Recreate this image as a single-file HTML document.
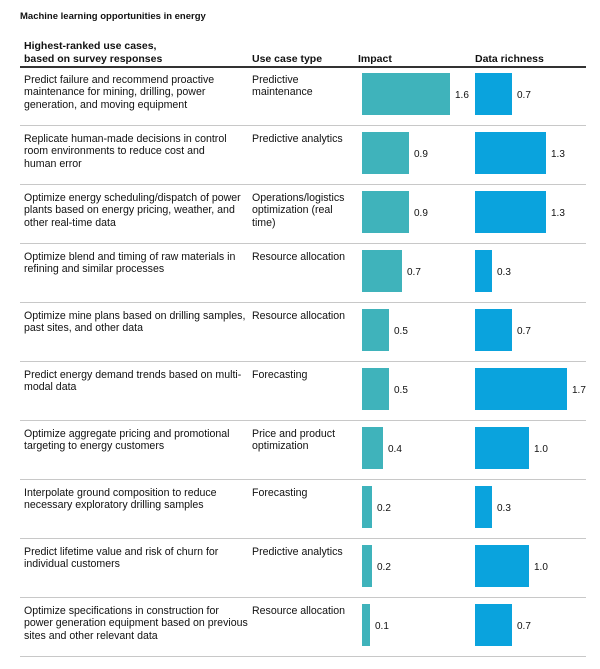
<!DOCTYPE html>
<html><head><style>
body{margin:0;width:600px;height:669px;background:#fff;position:relative;font-family:"Liberation Sans",Arial,sans-serif;color:#111;overflow:hidden}
.a{position:absolute}
.t{font-size:10.6px;line-height:12.3px}
.h{font-size:10.5px;line-height:13px;font-weight:bold}
.sep{position:absolute;left:20px;width:566px;height:1px;background:#c8c8c8}
.bi{position:absolute;background:#3fb3bb;height:42px}
.bd{position:absolute;background:#0aa3dd;height:42px}
.v{position:absolute;font-size:10px}
</style></head><body>
<div class="a" style="left:20px;top:11px;font-size:9.5px;font-weight:bold">Machine learning opportunities in energy</div>
<div class="a h" style="left:24px;top:40px">Highest-ranked use cases,<br>based on survey responses</div>
<div class="a h" style="left:252px;top:53px">Use case type</div>
<div class="a h" style="left:358px;top:53px">Impact</div>
<div class="a h" style="left:475px;top:53px">Data richness</div>
<div class="a" style="left:20px;top:66px;width:566px;height:1.5px;background:#333"></div>
<div id="rows"></div>
<script>
var W={"0.1":8,"0.2":10,"0.3":17,"0.4":21,"0.5":27,"0.7":37,"0.9":47,"1.0":54,"1.3":71,"1.6":88,"1.7":92};
var WI={"0.7":40};
var R=[
["Predict failure and recommend proactive<br>maintenance for mining, drilling, power<br>generation, and moving equipment","Predictive<br>maintenance",1.6,0.7],
["Replicate human-made decisions in control<br>room environments to reduce cost and<br>human error","Predictive analytics",0.9,1.3],
["Optimize energy scheduling/dispatch of power<br>plants based on energy pricing, weather, and<br>other real-time data","Operations/logistics<br>optimization (real<br>time)",0.9,1.3],
["Optimize blend and timing of raw materials in<br>refining and similar processes","Resource allocation",0.7,0.3],
["Optimize mine plans based on drilling samples,<br>past sites, and other data","Resource allocation",0.5,0.7],
["Predict energy demand trends based on multi-<br>modal data","Forecasting",0.5,1.7],
["Optimize aggregate pricing and promotional<br>targeting to energy customers","Price and product<br>optimization",0.4,1.0],
["Interpolate ground composition to reduce<br>necessary exploratory drilling samples","Forecasting",0.2,0.3],
["Predict lifetime value and risk of churn for<br>individual customers","Predictive analytics",0.2,1.0],
["Optimize specifications in construction for<br>power generation equipment based on previous<br>sites and other relevant data","Resource allocation",0.1,0.7]];
var h="";
R.forEach(function(r,i){
 var top=67+i*59;
 var a=r[2].toFixed(1),b=r[3].toFixed(1);
 h+='<div class="a t" style="left:24px;top:'+(top+7)+'px">'+r[0]+'</div>';
 h+='<div class="a t" style="left:252px;top:'+(top+7)+'px">'+r[1]+'</div>';
 var wi=WI[a]||W[a],wd=W[b];
 h+='<div class="bi" style="left:362px;top:'+(top+6)+'px;width:'+wi+'px"></div>';
 h+='<div class="v" style="left:'+(362+wi+5)+'px;top:'+(top+23)+'px">'+a+'</div>';
 h+='<div class="bd" style="left:475px;top:'+(top+6)+'px;width:'+wd+'px"></div>';
 h+='<div class="v" style="left:'+(475+wd+5)+'px;top:'+(top+23)+'px">'+b+'</div>';
 h+='<div class="sep" style="top:'+(top+58)+'px"></div>';
});
document.getElementById("rows").innerHTML=h;
</script>
</body></html>
